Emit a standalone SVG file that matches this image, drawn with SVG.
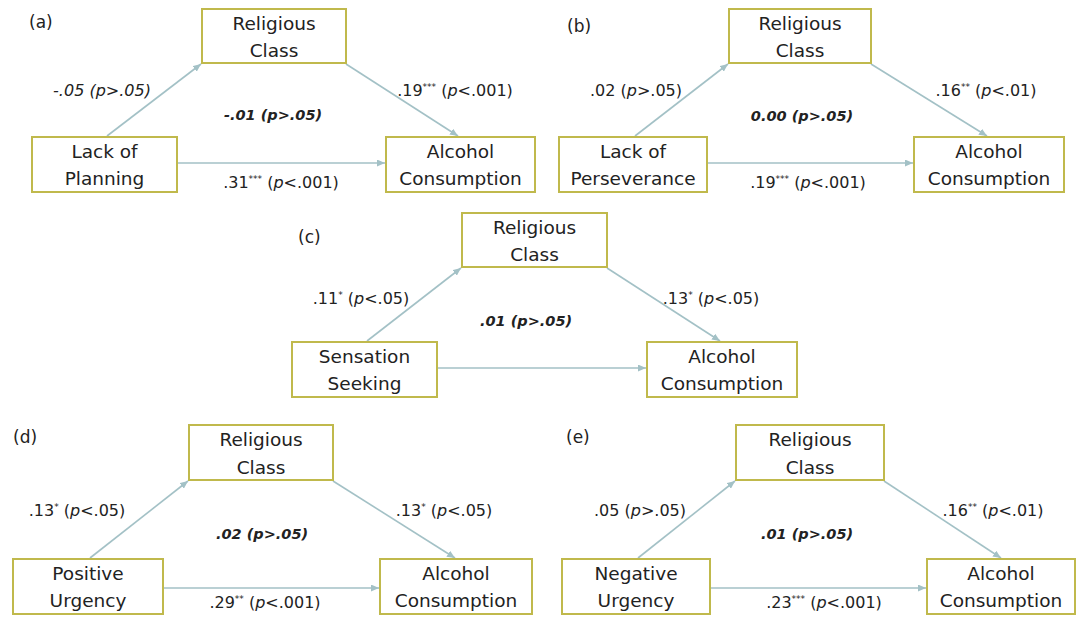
<svg xmlns="http://www.w3.org/2000/svg" width="1080" height="617" viewBox="0 0 1080 617">
<defs>
<marker id="ah" markerUnits="userSpaceOnUse" markerWidth="8" markerHeight="7" refX="8" refY="3.5" orient="auto">
<path d="M0,0 L8,3.5 L0,7 z" fill="#a3c1c6"/>
</marker>
<style>
.box{fill:#fff;stroke:#c0b94c;stroke-width:2}
.nt{font-family:"DejaVu Sans",sans-serif;font-size:18.5px;fill:#222;text-anchor:middle}
.pl{font-family:"DejaVu Sans",sans-serif;font-size:17px;fill:#222}
.lb{font-family:"DejaVu Sans",sans-serif;font-size:16px;fill:#222;text-anchor:middle}
.it{font-style:italic}
.bi{font-family:"DejaVu Sans",sans-serif;font-size:14.5px;font-weight:bold;font-style:italic;fill:#222;text-anchor:middle}
.sup{font-size:9px}
.cn line{stroke:#a3c1c6;stroke-width:1.6;marker-end:url(#ah)}
</style>
</defs>
<rect width="1080" height="617" fill="#fff"/>

<g class="cn" id="connectors">
<line x1="107" y1="136" x2="201" y2="64"/>
<line x1="346" y1="64" x2="458" y2="136"/>
<line x1="177" y1="163" x2="385" y2="163"/>
<line x1="635" y1="136" x2="728" y2="64"/>
<line x1="871" y1="64" x2="987" y2="136"/>
<line x1="707" y1="163" x2="913" y2="163"/>
<line x1="367" y1="341" x2="461" y2="268"/>
<line x1="607" y1="268" x2="720" y2="341"/>
<line x1="437" y1="368" x2="646" y2="368"/>
<line x1="90" y1="558" x2="188" y2="481"/>
<line x1="333" y1="481" x2="455" y2="558"/>
<line x1="163" y1="588" x2="379" y2="588"/>
<line x1="638" y1="558" x2="735" y2="481"/>
<line x1="884" y1="481" x2="1001" y2="558"/>
<line x1="710" y1="588" x2="926" y2="588"/>
</g>

<!-- Panel a -->
<text class="pl" x="29" y="28">(a)</text>
<g id="a-religious"><rect class="box" x="202" y="9" width="144" height="54"/><text class="nt" x="274" y="29.5">Religious</text><text class="nt" x="274" y="57">Class</text></g>
<g id="a-planning"><rect class="box" x="32" y="137" width="145" height="55"/><text class="nt" x="104.5" y="157.5">Lack of</text><text class="nt" x="104.5" y="185">Planning</text></g>
<g id="a-alcohol"><rect class="box" x="386" y="137" width="149" height="55"/><text class="nt" x="460.5" y="157.5">Alcohol</text><text class="nt" x="460.5" y="185">Consumption</text></g>
<g id="a-labels">
<text class="lb it" x="102" y="96">-.05 (p&gt;.05)</text>
<text class="bi" x="273" y="120">-.01 (p&gt;.05)</text>
<text class="lb" x="455" y="96">.19<tspan class="sup" dy="-6">***</tspan><tspan dy="6"> (</tspan><tspan class="it">p</tspan>&lt;.001)</text>
<text class="lb" x="281" y="188">.31<tspan class="sup" dy="-6">***</tspan><tspan dy="6"> (</tspan><tspan class="it">p</tspan>&lt;.001)</text>
</g>

<!-- Panel b -->
<text class="pl" x="567" y="32">(b)</text>
<g id="b-religious"><rect class="box" x="729" y="9" width="142" height="54"/><text class="nt" x="800" y="29.5">Religious</text><text class="nt" x="800" y="57">Class</text></g>
<g id="b-perseverance"><rect class="box" x="559" y="137" width="148" height="55"/><text class="nt" x="633" y="157.5">Lack of</text><text class="nt" x="633" y="185">Perseverance</text></g>
<g id="b-alcohol"><rect class="box" x="914" y="137" width="150" height="55"/><text class="nt" x="989" y="157.5">Alcohol</text><text class="nt" x="989" y="185">Consumption</text></g>
<g id="b-labels">
<text class="lb" x="636" y="96">.02 (<tspan class="it">p</tspan>&gt;.05)</text>
<text class="bi" x="802" y="121">0.00 (p&gt;.05)</text>
<text class="lb" x="986" y="96">.16<tspan class="sup" dy="-6">**</tspan><tspan dy="6"> (</tspan><tspan class="it">p</tspan>&lt;.01)</text>
<text class="lb" x="808" y="188">.19<tspan class="sup" dy="-6">***</tspan><tspan dy="6"> (</tspan><tspan class="it">p</tspan>&lt;.001)</text>
</g>

<!-- Panel c -->
<text class="pl" x="298" y="243">(c)</text>
<g id="c-religious"><rect class="box" x="462" y="213" width="145" height="54"/><text class="nt" x="534.5" y="233.5">Religious</text><text class="nt" x="534.5" y="261">Class</text></g>
<g id="c-sensation"><rect class="box" x="292" y="342" width="145" height="55"/><text class="nt" x="364.5" y="362.5">Sensation</text><text class="nt" x="364.5" y="390">Seeking</text></g>
<g id="c-alcohol"><rect class="box" x="647" y="342" width="150" height="55"/><text class="nt" x="722" y="362.5">Alcohol</text><text class="nt" x="722" y="390">Consumption</text></g>
<g id="c-labels">
<text class="lb" x="361" y="304">.11<tspan class="sup" dy="-6">*</tspan><tspan dy="6"> (</tspan><tspan class="it">p</tspan>&lt;.05)</text>
<text class="bi" x="526" y="326">.01 (p&gt;.05)</text>
<text class="lb" x="711" y="304">.13<tspan class="sup" dy="-6">*</tspan><tspan dy="6"> (</tspan><tspan class="it">p</tspan>&lt;.05)</text>
</g>

<!-- Panel d -->
<text class="pl" x="13" y="443">(d)</text>
<g id="d-religious"><rect class="box" x="189" y="425" width="144" height="55"/><text class="nt" x="261" y="446">Religious</text><text class="nt" x="261" y="473.5">Class</text></g>
<g id="d-positive"><rect class="box" x="13" y="559" width="150" height="55"/><text class="nt" x="88" y="579.5">Positive</text><text class="nt" x="88" y="607">Urgency</text></g>
<g id="d-alcohol"><rect class="box" x="380" y="559" width="152" height="55"/><text class="nt" x="456" y="579.5">Alcohol</text><text class="nt" x="456" y="607">Consumption</text></g>
<g id="d-labels">
<text class="lb" x="77" y="516">.13<tspan class="sup" dy="-6">*</tspan><tspan dy="6"> (</tspan><tspan class="it">p</tspan>&lt;.05)</text>
<text class="bi" x="262" y="539">.02 (p&gt;.05)</text>
<text class="lb" x="444" y="516">.13<tspan class="sup" dy="-6">*</tspan><tspan dy="6"> (</tspan><tspan class="it">p</tspan>&lt;.05)</text>
<text class="lb" x="265" y="608">.29<tspan class="sup" dy="-6">**</tspan><tspan dy="6"> (</tspan><tspan class="it">p</tspan>&lt;.001)</text>
</g>

<!-- Panel e -->
<text class="pl" x="566" y="443">(e)</text>
<g id="e-religious"><rect class="box" x="736" y="425" width="148" height="55"/><text class="nt" x="810" y="446">Religious</text><text class="nt" x="810" y="473.5">Class</text></g>
<g id="e-negative"><rect class="box" x="562" y="559" width="148" height="55"/><text class="nt" x="636" y="579.5">Negative</text><text class="nt" x="636" y="607">Urgency</text></g>
<g id="e-alcohol"><rect class="box" x="927" y="559" width="148" height="55"/><text class="nt" x="1001" y="579.5">Alcohol</text><text class="nt" x="1001" y="607">Consumption</text></g>
<g id="e-labels">
<text class="lb" x="640" y="516">.05 (<tspan class="it">p</tspan>&gt;.05)</text>
<text class="bi" x="807" y="539">.01 (p&gt;.05)</text>
<text class="lb" x="993" y="516">.16<tspan class="sup" dy="-6">**</tspan><tspan dy="6"> (</tspan><tspan class="it">p</tspan>&lt;.01)</text>
<text class="lb" x="824" y="608">.23<tspan class="sup" dy="-6">***</tspan><tspan dy="6"> (</tspan><tspan class="it">p</tspan>&lt;.001)</text>
</g>
</svg>
